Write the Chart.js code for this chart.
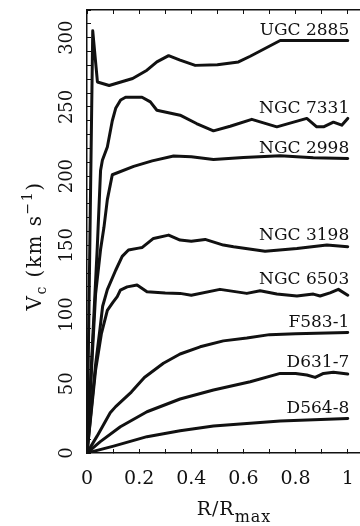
<!DOCTYPE html>
<html>
<head>
<meta charset="utf-8">
<script src="https://cdn.jsdelivr.net/npm/chart.js@4.4.1/dist/chart.umd.min.js"></script>
<style>
  html, body { margin: 0; padding: 0; background: #fff; }
  canvas { display: block; }
</style>
</head>
<body>
<canvas id="rc" width="360" height="526"></canvas>
<script>
// Rotation curves, normalised radius R/Rmax against circular velocity (km/s)
const galaxyNames = ['UGC 2885', 'NGC 7331', 'NGC 2998', 'NGC 3198', 'NGC 6503', 'F583-1', 'D631-7', 'D564-8'];

const radiusUGC2885   = [0, 0.022, 0.04, 0.085, 0.175, 0.23, 0.268, 0.313, 0.357, 0.415, 0.5, 0.581, 0.626, 0.741, 1.0];
const velocityUGC2885 = [0, 305, 268, 265.5, 270.5, 276.5, 282.5, 287, 283.8, 280, 280.5, 282.5, 286.6, 298, 298];

const radiusNGC7331   = [0, 0.039, 0.052, 0.059, 0.078, 0.097, 0.11, 0.129, 0.148, 0.211, 0.243, 0.268, 0.357, 0.42, 0.485, 0.549, 0.632, 0.728, 0.843, 0.881, 0.907, 0.945, 0.977, 1.0];
const velocityNGC7331 = [0, 147, 204, 211.5, 221, 240, 249, 255, 257, 257, 253.6, 247.6, 244, 238, 232.7, 236, 241, 235.6, 241.7, 235.6, 235.6, 239, 236.8, 241.7];

const radiusNGC2998   = [0, 0.033, 0.052, 0.065, 0.078, 0.097, 0.179, 0.25, 0.332, 0.4, 0.485, 0.6, 0.741, 0.868, 1.0];
const velocityNGC2998 = [0, 115, 147, 163, 183, 201, 207, 211, 214.5, 214, 212, 213.5, 214.7, 213.2, 212.8];

const radiusNGC3198   = [0, 0.033, 0.05, 0.06, 0.078, 0.11, 0.135, 0.159, 0.198, 0.212, 0.255, 0.313, 0.357, 0.4, 0.453, 0.523, 0.562, 0.683, 0.805, 0.92, 1.0];
const velocityNGC3198 = [0, 64, 90, 106, 118, 132, 142, 146.6, 148, 148.5, 155, 157.4, 153.8, 153, 154.3, 150.2, 149, 145.8, 147.8, 150.2, 149];

const radiusNGC6503   = [0, 0.033, 0.055, 0.078, 0.1, 0.116, 0.128, 0.154, 0.192, 0.23, 0.3, 0.357, 0.4, 0.51, 0.613, 0.664, 0.728, 0.805, 0.868, 0.894, 0.932, 0.964, 1.0];
const velocityNGC6503 = [0, 60, 86, 103, 109, 113, 117.7, 120, 121.3, 116.5, 115.5, 115.3, 114, 118.2, 115.3, 117.2, 114.8, 113.4, 114.8, 113.4, 115.7, 118.2, 114];

const radiusF5831     = [0, 0.038, 0.059, 0.089, 0.11, 0.17, 0.22, 0.293, 0.357, 0.434, 0.523, 0.613, 0.7, 0.8, 1.0];
const velocityF5831   = [0, 12, 19, 29, 33.5, 44, 54.5, 64.8, 71.5, 76.7, 81, 83, 85.5, 86.2, 87.1];

const radiusD6317     = [0, 0.051, 0.128, 0.23, 0.357, 0.485, 0.626, 0.741, 0.8, 0.843, 0.875, 0.907, 0.945, 1.0];
const velocityD6317   = [0, 8.2, 19, 29.8, 39, 45.5, 51.5, 57.5, 57.5, 56.3, 54.6, 57.5, 58.3, 57];

const radiusD5648     = [0, 0.102, 0.23, 0.357, 0.485, 0.741, 1.0];
const velocityD5648   = [0, 5, 11.8, 16, 19.5, 23.1, 25];

// Axis ticks and their labels
const xTickValues  = [0, 0.1, 0.2, 0.3, 0.4, 0.5, 0.6, 0.7, 0.8, 0.9, 1.0];
const xLabelValues = [0, 0.2, 0.4, 0.6, 0.8, 1.0];
const xLabelTexts  = ['0', '0.2', '0.4', '0.6', '0.8', '1'];
const yLabelValues = [0, 50, 100, 150, 200, 250, 300];
const yLabelTexts  = ['0', '50', '100', '150', '200', '250', '300'];

const radii = [radiusUGC2885, radiusNGC7331, radiusNGC2998, radiusNGC3198, radiusNGC6503, radiusF5831, radiusD6317, radiusD5648];
const velocities = [velocityUGC2885, velocityNGC7331, velocityNGC2998, velocityNGC3198, velocityNGC6503, velocityF5831, velocityD6317, velocityD5648];

const SERIF = '"DejaVu Serif", "Liberation Serif", serif';
const INK = '#111';

const datasets = galaxyNames.map((name, k) => ({
  label: name,
  data: radii[k].map((r, i) => ({ x: r, y: velocities[k][i] })),
  borderColor: INK,
  borderWidth: 3,
  pointRadius: 0,
  tension: 0,
  borderJoinStyle: 'round',
  borderCapStyle: 'round',
  fill: false
}));

// Draw a run of text pieces (with sub/superscripts) centred on x
function drawRuns(ctx, runs, cx, cy, spacing) {
  ctx.letterSpacing = spacing + 'px';
  let total = 0;
  runs.forEach(r => { ctx.font = r.size + 'px ' + SERIF; r.w = ctx.measureText(r.t).width; total += r.w; });
  let x = cx - total / 2;
  runs.forEach(r => {
    ctx.font = r.size + 'px ' + SERIF;
    ctx.fillText(r.t, x, cy + (r.dy || 0));
    x += r.w;
  });
  ctx.letterSpacing = '0px';
}

const annotations = {
  id: 'annotations',
  afterDraw(chart) {
    const { ctx, scales } = chart;
    const xs = scales.x, ys = scales.y;
    ctx.save();
    ctx.fillStyle = INK;
    ctx.textBaseline = 'alphabetic';

    // x tick labels
    ctx.font = '19px ' + SERIF;
    ctx.textAlign = 'center';
    xLabelValues.forEach((v, i) => {
      ctx.fillText(xLabelTexts[i], xs.getPixelForValue(v), 484);
    });

    // rotated y tick labels
    ctx.font = '18px ' + SERIF;
    yLabelValues.forEach((v, i) => {
      ctx.save();
      ctx.translate(72, ys.getPixelForValue(v));
      ctx.rotate(-Math.PI / 2);
      ctx.fillText(yLabelTexts[i], 0, 0);
      ctx.restore();
    });

    // y axis title: V_c (km s^-1)
    ctx.save();
    ctx.translate(41, 246);
    ctx.rotate(-Math.PI / 2);
    ctx.textAlign = 'left';
    drawRuns(ctx, [
      { t: 'V', size: 20 },
      { t: 'c', size: 14, dy: 5 },
      { t: ' (km s', size: 20 },
      { t: '\u22121', size: 14, dy: -9 },
      { t: ')', size: 20 }
    ], 0, 0, 1.5);
    ctx.restore();

    // x axis title: R/R_max
    ctx.textAlign = 'left';
    drawRuns(ctx, [
      { t: 'R/R', size: 19 },
      { t: 'max', size: 16, dy: 7 }
    ], 234, 515, 1);

    // galaxy names above the outer end of each curve
    ctx.font = '17px ' + SERIF;
    ctx.textAlign = 'right';
    galaxyNames.forEach((name, k) => {
      let top = 0;
      radii[k].forEach((r, i) => { if (r >= 0.85) top = Math.max(top, velocities[k][i]); });
      ctx.fillText(name, xs.getPixelForValue(1) + 1.5, ys.getPixelForValue(top) - 5);
    });
    ctx.restore();
  }
};

const frameGrid = { drawOnChartArea: false, drawTicks: true, tickLength: -4, color: INK, lineWidth: 1 };
const frameBorder = { display: true, color: INK, width: 1.5 };

new Chart(document.getElementById('rc'), {
  type: 'line',
  data: { datasets },
  options: {
    responsive: false,
    animation: false,
    layout: { padding: 0 },
    plugins: { legend: { display: false }, tooltip: { enabled: false } },
    scales: {
      x: {
        type: 'linear', position: 'bottom', min: 0, max: 1.047,
        grid: frameGrid, border: frameBorder,
        afterBuildTicks: s => { s.ticks = xTickValues.map(v => ({ value: v })); },
        afterFit: s => { s.height = 73; },
        ticks: { display: false }
      },
      x2: {
        type: 'linear', position: 'top', min: 0, max: 1.047,
        grid: frameGrid, border: frameBorder,
        afterBuildTicks: s => { s.ticks = xTickValues.map(v => ({ value: v })); },
        afterFit: s => { s.height = 10; },
        ticks: { display: false }
      },
      y: {
        type: 'linear', position: 'left', min: 0, max: 320,
        grid: frameGrid, border: frameBorder,
        afterFit: s => { s.width = 87; },
        ticks: { display: false, stepSize: 10 }
      }
    }
  },
  plugins: [annotations]
});
</script>
</body>
</html>
